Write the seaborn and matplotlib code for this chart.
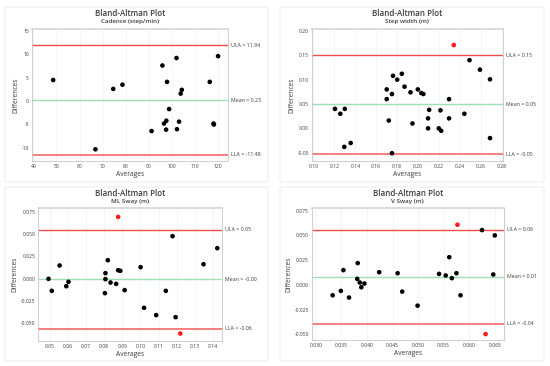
import matplotlib
matplotlib.use("Agg")
import matplotlib.pyplot as plt
import seaborn as sns
import pandas as pd
from matplotlib.patches import FancyBboxPatch

# Cadence (step/min)
cad_avg = [48.6, 74.6, 78.6, 66.9, 91.2, 95.9, 102.0, 97.9, 104.3, 103.8, 98.8,
           97.6, 96.6, 97.5, 103.1, 102.2, 116.4, 120.0, 118.0, 118.2]
cad_diff = [4.5, 2.6, 3.5, -10.3, -6.4, 7.6, 9.2, 4.1, 2.4, 1.6, -1.7,
            -4.2, -4.8, -6.1, -4.4, -6.0, 4.1, 9.6, -4.8, -5.0]
cad_limits = [11.94, 0.23, -11.48]

# Step width (m)
sw_avg = [0.234, 0.1206, 0.1257, 0.130, 0.1295, 0.1356, 0.170, 0.170, 0.175, 0.176,
          0.180, 0.1844, 0.187, 0.172, 0.175, 0.1927, 0.1946, 0.1997, 0.203, 0.205,
          0.2105, 0.2095, 0.2095, 0.2197, 0.222, 0.2213, 0.2295, 0.2295, 0.2441,
          0.249, 0.259, 0.2686, 0.2686]
sw_diff = [0.171, 0.040, 0.030, 0.040, -0.038, -0.030, 0.080, 0.060, 0.0705, 0.108,
           0.100, 0.112, 0.0856, 0.016, -0.051, 0.074, 0.010, 0.080, 0.0726, 0.0705,
           0.038, 0.0205, 0.000, 0.000, -0.005, 0.037, 0.060, 0.0205, 0.030,
           0.140, 0.1205, 0.1007, -0.020]
sw_limits = [0.150, 0.049, -0.053]

# ML Sway (m)
ml_avg = [0.0877, 0.122, 0.0493, 0.0511, 0.0554, 0.0591, 0.0603, 0.0807, 0.0807,
          0.082, 0.0804, 0.0835, 0.0866, 0.0877, 0.0889, 0.0913, 0.1001, 0.102,
          0.1087, 0.114, 0.1177, 0.1194, 0.1348, 0.1424]
ml_diff = [0.069, -0.0616, -0.0004, -0.0138, 0.0146, -0.0086, -0.0037, 0.006, -0.0007,
           0.0205, -0.0164, -0.0045, -0.006, 0.0093, 0.0086, -0.013, 0.0127, -0.0328,
           -0.041, -0.0138, 0.0474, -0.0433, 0.016, 0.034]
ml_limits = [0.0545, -0.0008, -0.056]

# V Sway (m)
v_avg = [0.0577, 0.0632, 0.0333, 0.0349, 0.0354, 0.0365, 0.0382, 0.0381, 0.0386,
         0.0389, 0.0395, 0.0424, 0.046, 0.0469, 0.0499, 0.0541, 0.0554, 0.0561,
         0.0566, 0.0575, 0.0583, 0.0625, 0.065, 0.0647]
v_diff = [0.0608, -0.0497, -0.0105, -0.0061, 0.0149, -0.0128, 0.022, 0.0061, 0.0024,
          -0.0024, 0.0014, 0.0128, 0.0118, -0.0068, -0.021, 0.0111, 0.0095, 0.028,
          0.0068, 0.0118, -0.0105, 0.0554, 0.050, 0.0105]
v_limits = [0.0557, 0.0081, -0.0392]

panels = [
    ("Cadence (step/min)", cad_avg, cad_diff, cad_limits,
     [40, 50, 60, 70, 80, 90, 100, 110, 120], [-10, -5, 0, 5, 10, 15], "{:.0f}", "{:.0f}", "{:.2f}"),
    ("Step width (m)", sw_avg, sw_diff, sw_limits,
     [0.10, 0.12, 0.14, 0.16, 0.18, 0.20, 0.22, 0.24, 0.26, 0.28],
     [-0.05, 0.0, 0.05, 0.10, 0.15, 0.20], "{:.2f}", "{:.2f}", "{:.2f}"),
    ("ML Sway (m)", ml_avg, ml_diff, ml_limits,
     [0.05, 0.06, 0.07, 0.08, 0.09, 0.10, 0.11, 0.12, 0.13, 0.14],
     [-0.050, -0.025, 0.0, 0.025, 0.050, 0.075], "{:.2f}", "{:.3f}", "{:.2f}"),
    ("V Sway (m)", v_avg, v_diff, v_limits,
     [0.030, 0.035, 0.040, 0.045, 0.050, 0.055, 0.060, 0.065],
     [-0.050, -0.025, 0.0, 0.025, 0.050, 0.075], "{:.3f}", "{:.3f}", "{:.2f}"),
]

xlims = [(39.3, 124.3), (0.0984, 0.281), (0.0435, 0.145), (0.0292, 0.0668)]
ylims = [(-12.8, 15.4), (-0.067, 0.204), (-0.070, 0.079), (-0.0557, 0.0777)]

# axes rectangles in pixels: left, right, top, bottom
W, H = 550, 366
boxes_px = [(31.7, 228, 29, 161), (311.7, 503, 29, 161),
            (38, 222, 208, 341), (311.7, 504, 208, 340)]
frames_px = [(5, 268, 7, 182), (280, 544, 7, 182),
             (5, 268, 187, 361), (280, 544, 187, 361)]

sns.set_theme(style="white")
plt.rcParams['font.family'] = ['Open Sans', 'DejaVu Sans']

fig = plt.figure(figsize=(5.5, 3.66), dpi=100)
fig.patch.set_facecolor("white")

text_col = "#3c3c3c"
for (title, avg, diff, lim, xt, yt, xfmt, yfmt, lfmt), xl, yl, b, fr in zip(
        panels, xlims, ylims, boxes_px, frames_px):
    # panel frame
    fig.patches.append(FancyBboxPatch(
        (fr[0] / W, 1 - fr[3] / H), (fr[1] - fr[0]) / W, (fr[3] - fr[2]) / H,
        boxstyle="round,pad=0,rounding_size=0.004", transform=fig.transFigure,
        facecolor="none", edgecolor="#e8e8e8", linewidth=0.6))

    ax = fig.add_axes([b[0] / W, 1 - b[3] / H, (b[1] - b[0]) / W, (b[3] - b[2]) / H])
    ula, mean, lla = lim
    df = pd.DataFrame({"avg": avg, "diff": diff})
    df["out"] = [(d > ula) or (d < lla) for d in diff]

    ax.set_xlim(*xl)
    ax.set_ylim(*yl)
    ax.set_xticks(xt)
    ax.set_yticks(yt)
    ax.set_xticklabels([xfmt.format(v) for v in xt])
    ax.set_yticklabels([yfmt.format(v) for v in yt])
    ax.grid(axis="x", color="#f0f0f0", linewidth=0.5)
    ax.set_axisbelow(True)

    ax.axhline(ula, color="#f04a4a", linewidth=1.0, zorder=2)
    ax.axhline(mean, color="#9ee0b4", linewidth=1.0, zorder=2)
    ax.axhline(lla, color="#f56a6a", linewidth=1.2, zorder=2)

    sns.scatterplot(data=df, x="avg", y="diff", hue="out",
                    palette={False: "black", True: "#ff1a1a"},
                    s=11, linewidth=0, legend=False, ax=ax, zorder=3)

    trans = ax.get_yaxis_transform()
    for val, lab in [(ula, "ULA"), (mean, "Mean"), (lla, "LLA")]:
        ax.text(1.015, val, f"{lab} = {lfmt.format(val)}", transform=trans,
                ha="left", va="center", fontsize=3.8, color=text_col)

    ax.set_xlabel("Averages", fontsize=4.8, color=text_col, labelpad=1.5)
    ax.set_ylabel("Differences", fontsize=4.8, color=text_col, labelpad=1.5)
    ax.tick_params(axis="both", labelsize=3.6, colors=text_col, length=0, pad=2)
    for side in ["left", "bottom", "right"]:
        ax.spines[side].set_color("#c8c8c8")
        ax.spines[side].set_linewidth(0.6)
    ax.spines["top"].set_color("#d4d4d4")
    ax.spines["top"].set_linewidth(1.2)

    cx = (b[0] + b[1]) / 2 / W
    fig.text(cx, 1 - (b[2] - 15) / H, "Bland-Altman Plot", ha="center", va="center",
             fontsize=5.8, color=text_col, fontweight="semibold")
    fig.text(cx, 1 - (b[2] - 7) / H, title, ha="center", va="center",
             fontsize=4.5, color=text_col, fontweight="semibold")

fig.savefig("out.png", dpi=100)
